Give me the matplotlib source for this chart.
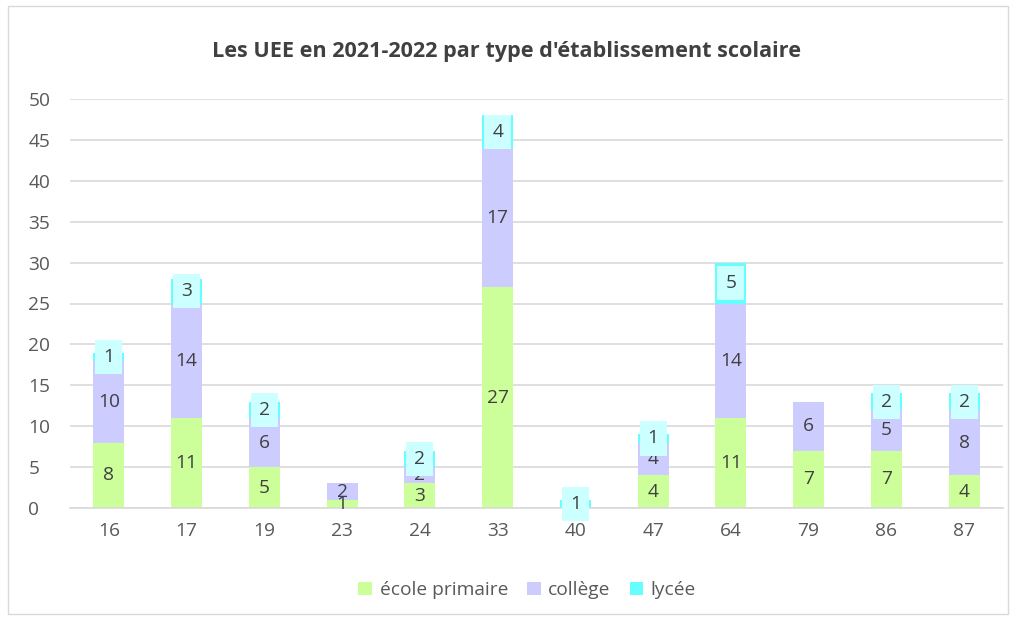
import matplotlib.pyplot as plt
import numpy as np
from matplotlib.patches import Rectangle

plt.rcParams['font.family'] = ['Open Sans', 'DejaVu Sans']

departements = ["16", "17", "19", "23", "24", "33", "40", "47", "64", "79", "86", "87"]
ecole = [8, 11, 5, 1, 3, 27, 0, 4, 11, 7, 7, 4]
college = [10, 14, 6, 2, 2, 17, 0, 4, 14, 6, 5, 8]
lycee = [1, 3, 2, 0, 2, 4, 1, 1, 5, 0, 2, 2]

c_ecole = "#CCFF99"
c_college = "#CCCCFF"
c_lycee = "#66FFFF"
txt = "#595959"

fig = plt.figure(figsize=(10.14, 6.17), dpi=100)
ax = fig.add_axes([70 / 1014, 1 - 508 / 617, 933 / 1014, 409 / 617])

x = np.arange(len(departements))
w = 0.4
b1 = ax.bar(x, ecole, w, color=c_ecole, label="école primaire", zorder=2)
bottom2 = np.array(ecole)
b2 = ax.bar(x, college, w, bottom=bottom2, color=c_college, label="collège", zorder=2)
bottom3 = bottom2 + np.array(college)
b3 = ax.bar(x, lycee, w, bottom=bottom3, color=c_lycee, label="lycée", zorder=2)

fs = 13.8
for i in range(len(x)):
    if ecole[i] > 0:
        ax.text(x[i], ecole[i] / 2, str(ecole[i]), ha="center", va="center",
                fontsize=fs, color="#404040", zorder=4)
    if college[i] > 0:
        ax.text(x[i], bottom2[i] + college[i] / 2, str(college[i]), ha="center",
                va="center", fontsize=fs, color="#404040", zorder=4)
    if lycee[i] > 0:
        ax.text(x[i], bottom3[i] + lycee[i] / 2, str(lycee[i]), ha="center",
                va="center", fontsize=fs, color="#404040", zorder=4,
                bbox=dict(boxstyle="square,pad=0.42", fc="#CCFFFF", ec="none"))

ax.set_xlim(-0.5, len(x) - 0.5)
ax.set_ylim(0, 50)
ax.set_yticks(range(0, 51, 5))
ax.set_xticks(x)
ax.set_xticklabels(departements)
ax.tick_params(length=0, labelsize=fs, labelcolor=txt, pad=10)
ax.tick_params(axis="y", pad=30)
for lab in ax.get_yticklabels():
    lab.set_horizontalalignment("left")
ax.grid(axis="y", color="#D9D9D9", linewidth=1.2, zorder=0)
for s in ["top", "right", "left"]:
    ax.spines[s].set_visible(False)
ax.spines["bottom"].set_color("#D9D9D9")
ax.spines["bottom"].set_linewidth(1.2)

fig.text(0.5, 1 - 52 / 617, "Les UEE en 2021-2022 par type d'établissement scolaire",
         ha="center", va="center", fontsize=15.6, fontweight="bold", color="#404040")

fig.legend(handles=[b1, b2, b3], loc="center", bbox_to_anchor=(0.52, 1 - 590 / 617),
           ncol=3, frameon=False, fontsize=fs, labelcolor=txt, handlelength=0.7,
           handleheight=0.7, columnspacing=1.0, handletextpad=0.4)

fig.patches.append(Rectangle((8 / 1014, 0.005), 1000 / 1014, 0.985, transform=fig.transFigure,
                             fill=False, ec="#D9D9D9", lw=1))

fig.savefig("out.png", dpi=100)
